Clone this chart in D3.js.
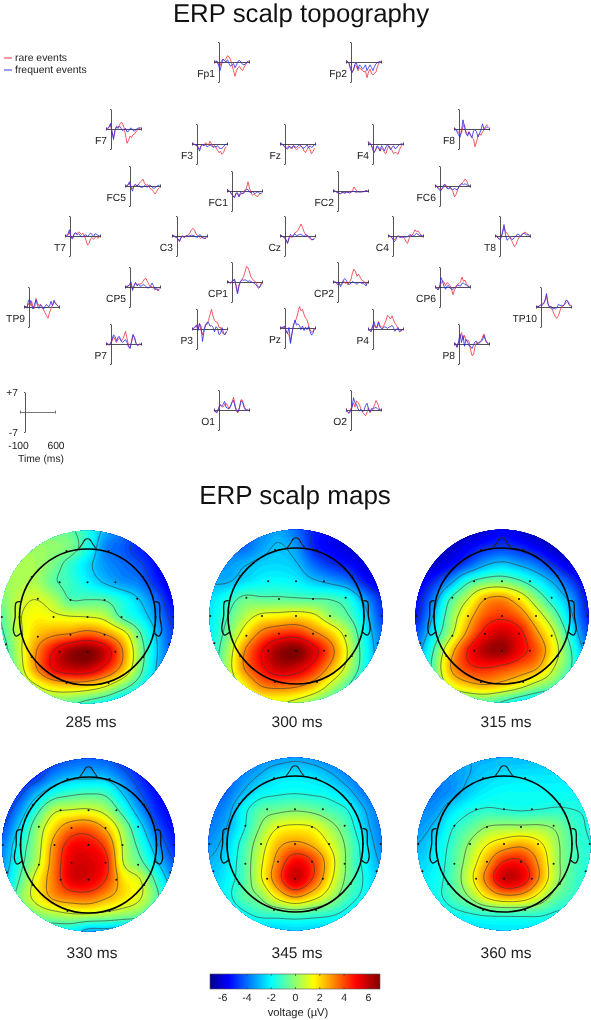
<!DOCTYPE html>
<html>
<head>
<meta charset="utf-8">
<style>
  body { margin: 0; background: #fff; }
  svg { filter: blur(0.3px); }
  text { font-family: "Liberation Sans", Arial, sans-serif; fill: #222; text-rendering: geometricPrecision; }
</style>
</head>
<body>
<svg id="chart" width="591" height="1020"></svg>
<script src="https://d3js.org/d3.v7.min.js"></script>
<script>

var channels = ["Fp1","Fp2","F7","F3","Fz","F4","F8","FC5","FC1","FC2","FC6","T7","C3","Cz","C4","T8",
  "CP5","CP1","CP2","CP6","TP9","TP10","P7","P3","Pz","P4","P8","O1","O2"];

var times = [-100,-70,-40,-10,20,50,80,110,140,170,200,230,260,290,320,350,380,410,440,470,500,530,560,590];

var rareEvents = [
  [0,.3,0,-1,-1.5,.5,1,.5,1.2,2.2,1.8,.8,-1,-3,-5,-3,-2,-1.5,-2.5,-3,-2,-1,-.3,.3],
  [.4,.2,-.5,-2,-3.5,-2.5,-1,-1.5,-3,-2,-2.5,-3,-3.5,-3.2,-5.5,-3.5,-2.5,-4,-4.5,-4,-3.5,-1.5,-.3,.2],
  [.2,0,.5,1.5,-1,-3,-.5,1,.5,1.5,2.3,2,.5,-2,-5,-4,-2.5,-3,-2,-1.8,-1,-.3,.2,.2],
  [0,.2,-.3,-.5,-1.5,-1.8,-.6,-.3,-.5,.4,0,-.3,1,0,-1,-.5,-1.2,-2.2,-3,-2.6,-3.6,-3,-1.5,-1],
  [0,.2,-.2,-1,-1.6,-1,-.6,-1.5,-1.2,-.5,-1.5,-2,-1.6,-1,-.6,-1.2,-2.5,-3,-2,-1,-2,-3.4,-2.6,-1.5],
  [.5,.2,0,-1.5,-3,-2,-1,-1.5,-2.5,-1.5,-2,-3,-3.4,-1.5,-.7,-1.5,-2.2,-3.4,-3,-3.1,-3.6,-2,-.8,-.3],
  [.2,0,-.5,-1,-2,-1.5,1,1.5,-1,-2,-1,-2.5,-3,-3.5,-6.2,-4.5,-2.5,-1.5,-2.2,-1,-.2,1,1.5,1],
  [0,.1,.3,1,-.5,-1,0,.3,.1,.7,1.2,1.8,2.4,1,.3,.5,-.3,-1,-1.2,-2,-2.8,-2,-1,-.5],
  [.4,.1,-.2,-1,-1.8,-2.2,-1,-1,-2,-1,-1,-.5,.4,1,3.2,1,-.6,-1.5,-1,-1.4,-2,-1.6,-.8,-1],
  [.3,.1,-.3,-.5,-.8,-1,-.6,-.5,-.8,-.4,-.4,-.6,-.2,.2,1.4,.6,-.1,-.4,-.2,-.3,-.3,-.2,.2,.1],
  [.1,0,-.5,-1,-1.5,-1,.3,.5,-.5,-1,-.6,-1.2,-2,-3.8,-3,-1.4,-.2,.6,1,1.5,2.4,2,.5,0],
  [.1,0,.2,1.5,-.5,-.8,.6,1,.8,1.4,1.2,.5,1,0,-1.5,-3.2,-2.6,-1,-.5,-1.2,-.5,-.2,-.8,-.2],
  [0,.2,-.3,-.6,-1,-2,-.6,-.2,-.5,-.1,.2,.4,1.2,2.2,2.7,2,.8,.1,-.3,-.8,-.3,-.5,-1,-.6],
  [.2,.1,-.3,-.6,-1.2,-2.5,-1,0,-.6,.3,1.2,1.4,2,3,4.2,3,1.5,.5,0,-.4,-.8,-1.4,-1.2,-.8],
  [.1,0,-.3,-1,-1.5,-.8,-.2,-.2,-.5,-.3,-.2,-.8,-2,-2.6,-1,.3,.3,1,2.2,1.5,1.8,1,.3,.2],
  [0,.1,-.4,-1,-.5,1,3,1.5,1,.2,-.5,-1.5,-2.6,-3.7,-3,-1.6,-.5,0,.4,1,1.4,1,.6,.2],
  [0,.2,.3,.7,1.2,-.7,.4,1.4,.8,1,1,1.2,2,2.8,3,1.8,.8,-.1,.2,-.4,-1,-.8,-1.4,-.9],
  [.2,.1,-.3,-.3,.4,.8,-1,-3.5,-1,.2,.8,1.8,3.5,5.4,5,3.5,1.8,1,.4,.1,-1,-1.8,-1.6,-.2],
  [.1,0,-.2,-.7,-.4,-1,-.5,.4,-.5,-.2,-1,0,1,3.2,4.5,3.6,2,2.8,1.8,.8,.4,.1,-.8,-.3],
  [0,-.2,-1,.3,1.2,2.2,1.8,.5,1.5,1.2,.5,-.6,-2.7,-1,-.3,1,1.2,1.8,3.5,2,2.4,1,.4,.1],
  [0,.2,0,1.2,.4,2.2,0,-.5,3,1.5,.4,1,0,-1,-2,-3,-3.9,-2,-.5,.6,1.8,1.4,.8,.2],
  [0,.2,.3,.5,1,1.4,2,4,1,0,-.5,-1,-2.4,-3.5,-3.9,-3,-1.3,.2,.5,.8,1.5,2,1.4,.4],
  [0,.2,-.5,.4,1,2.6,1.5,.5,1.6,2,1.2,1.5,2.8,4.4,2,-.5,-1.4,.5,2.8,2.4,.3,-.4,-.3,-.1],
  [0,.2,.5,1.5,-.2,2,-.5,-2,-.2,1.5,1.5,3,5,6.9,4.5,3,2.5,2.4,.5,.6,-1,-1.8,-2,-1],
  [0,.2,0,.6,-1,-1.8,-2.6,-5,-2,1,2,3.5,5.5,7.5,6,6.5,4.8,3.5,3,1,-.5,-1.5,-1.2,0],
  [0,-.5,-1,1,1.6,.4,1,2.6,1,.8,.5,1.8,3,4.8,4.2,3.5,4.6,3.2,2,1.2,.4,-.3,-.8,-.3],
  [0,.2,-1,.5,2,4,1.5,3,1,1.4,1,-2,-4,-3.8,-1,.5,.3,.8,1,2.4,3.5,1.6,.4,.2],
  [0,-.7,-1,.5,2,1.4,1,1.8,2.4,1.5,.5,1.2,2.6,4.4,2,-.5,-1,1,3.6,3.4,1.5,.3,-.1,0],
  [0,-.6,-1,.3,1.2,2.5,1,3.2,2.6,1.8,.2,-.8,-1.4,-2,-.8,.8,-1,0,.6,1.8,3.3,2.4,.8,.1]
];

var frequentEvents = [
  [.3,0,.4,-1,-3,-1,1,.5,0,.8,-.5,-1.5,-1,-.5,-2,-1,.3,.6,0,-.8,-1,-.6,0,.4],
  [.5,.2,-.4,-2.5,-3.8,-2.8,-.6,-.4,-2.4,-1,-1.6,-2.5,-2,-1,-3,-2,-1,-2,-3,-1.6,-.6,-.2,.1,.2],
  [.3,.2,.8,2,-1,-3.7,-.5,.8,.2,1,.3,-.5,-.3,.3,-1,-.8,.2,.3,-.5,-.8,-.2,.2,.4,.5],
  [.2,0,-.2,-.4,-1,-2.5,-.8,-.2,-.6,-.2,-1,-.7,-.3,-.6,-1.2,-1,-1,-.6,-1.3,-1.6,-1.5,-1,-.2,0],
  [.3,0,-.4,-.8,-1.4,-1.8,-.8,-1,-1.6,-.6,-1,-1.2,-.8,-.2,-.8,-1.3,-1.5,-.9,-.3,-1.3,-.6,-1.2,-.9,0],
  [1,.3,-.2,-1.6,-3,-2.2,-.6,-1,-2.4,-.6,-1.4,-2.4,-1,-.2,-1,-2,-1.2,-.6,-1.6,-1.4,-.7,-.2,0,.1],
  [.3,0,-1,-2,-3,-.5,3.2,.5,-1.5,-2.5,-1,-2,-3,-.7,-.2,-1,-2.8,-1.6,-.3,1.8,-.2,.3,.8,.4],
  [.1,0,.4,1.5,-.5,-1.8,.2,.6,0,.5,-.2,-.5,-.4,.2,-.2,-.4,.3,.2,-.5,-.8,-.7,-.2,.2,.3],
  [.5,.1,-.2,-1,-1.6,-2.4,-.7,-.6,-2,-.5,-.8,-.9,-.2,.6,.5,-.4,-.6,-.2,-.8,-.8,-.3,-.4,-1,-.6],
  [.4,.1,-.2,-.6,-.8,-.9,-.5,-.6,-.7,-.4,-.5,-.7,-.4,-.2,-.1,-.4,-.4,-.2,-.4,-.3,-.2,-.1,0,0],
  [.2,0,-.8,-1.5,-1.5,-.6,.5,.2,-.8,-1,-.3,-1,-1.4,-.7,-1.3,-1.2,-.2,.4,.8,.5,.8,.4,.2,.1],
  [.1,.2,.8,2.2,-.6,-1,.6,1.2,.4,.8,.3,-.3,-.2,.2,.4,-.2,.4,1,.6,-.2,.8,.6,.2,.1],
  [.1,.2,-.2,-.5,-1,-1.8,-.4,.1,-.5,-.1,.1,-.1,.1,.3,.2,0,-.3,-.5,.3,.4,-.5,-.8,-.8,-.4],
  [.3,.1,-.2,-.6,-1.4,-2.6,-.6,.6,-.4,.4,.8,.1,.3,.5,.6,.2,-.1,.4,.4,-.3,-.4,-1.2,-1.3,-1],
  [.2,.1,-.2,-.8,-2,-1.6,-.2,.1,-.4,-.5,-.4,-.3,-.4,-.2,.2,.5,-.1,.1,.4,.9,.5,.2,.2,.1],
  [.1,0,-.8,-1.2,-.8,1.5,4,.5,-1.5,-1,-.5,-1,-1.2,-.4,0,.7,.5,-.2,.6,.9,.8,.4,.4,.2],
  [.1,.2,.3,.9,1.8,-1.2,.3,1.6,.4,.8,.3,.3,.9,.6,.2,-.3,-.3,.3,1.4,.4,-.8,-.3,-1.1,-.6],
  [.2,.1,-.4,-.1,.6,1,-1.4,-4.2,-1.4,.3,.8,.6,.8,.5,.2,.4,.2,-.2,-.3,-.8,-1.4,-2.2,-1.8,-.5],
  [.1,.1,-.1,-.8,-.3,-1.6,-.7,.8,1.2,.4,-.6,-.9,-.4,.2,-.2,-.4,-.8,-.3,-.1,-.5,-.4,-.7,-1.4,-.2],
  [.1,-.3,-1,-.2,3.3,2,.3,-.8,.3,.5,-.4,-.7,-.8,-.3,.2,.7,.5,.3,1.3,1.4,.8,.7,.2,0],
  [.1,.2,-.4,2.4,2.4,.8,-.7,.8,2.5,.5,-.5,.8,.2,-.8,.2,.9,.2,.3,2,.5,2.4,1.2,.6,.1],
  [0,.2,.2,.8,.6,1,2.4,4.7,1.2,0,.3,-.8,-.5,-.7,-.2,1,.5,.6,.3,1,2.4,2.2,.8,.3],
  [0,.2,-.3,.2,1.5,3.2,2.7,1,2.4,2.6,1,.6,1,1.6,.6,-1,-1.6,1,3.4,2.2,.2,-.6,0,0],
  [0,.3,.8,1.2,-.5,1.8,1,-4.4,-.8,1.3,2.3,2.3,1,1.2,.6,-1,.8,.2,-2,-1.6,.5,-1.4,-2,-.8],
  [0,.2,.3,.6,-1,-2,.2,-5.4,-1.8,1,2.8,1,1.5,.8,-.6,.7,-.9,.3,-.6,.5,-1.2,-2.5,-1.8,-.3],
  [0,-.4,-.9,.8,2.6,.8,.3,2.4,.6,.2,.2,.8,.6,.2,.7,.8,1.3,.5,-.8,-.2,.5,-1,-.6,-.2],
  [0,.1,-1.2,.8,3.4,.5,3,-.8,1.6,.8,-.6,-.8,-1.6,-.4,.8,1,-.3,.6,.8,1.4,3,1.2,.4,.2],
  [0,-.6,-.8,.4,1.8,1.3,2,3,1,.6,.4,1.4,2.8,3.4,1.2,-.3,-.6,.8,3.2,2.8,1,0,0,0],
  [0,-.7,-1.2,-.5,.8,4.3,2.5,2,.4,-.3,.2,-.5,-.2,1.5,2.4,.3,-.6,.5,.3,.7,.9,.4,.2,.1]
];

var mapLabels = ["285 ms","300 ms","315 ms","330 ms","345 ms","360 ms"];
var voltTicks = [-6,-4,-2,0,2,4,6];
var scaleBarTimes = [-100,600];
var scaleBarVolts = [-7,7];

// scalp voltage sampled on an 11x11 square around each disc
var map285 = [
  [0,0,-.3,-.3,-.6,-1.5,-3,-3.8,-4.5,-5,-5.5],
  [.2,.2,.2,0,-.3,-1.6,-3.6,-4.2,-5,-5.5,-6],
  [.4,.4,.3,-.3,-1.3,-2.4,-3.4,-3.9,-4.4,-5.4,-6],
  [.1,.4,.4,-.6,-1.2,-2,-2.8,-3.4,-3.8,-5,-6],
  [-.2,.7,1.1,.5,-.8,-.8,-.9,-1.7,-2.7,-4,-5.6],
  [-.7,.9,1.6,1.4,1.2,1.1,.7,-1,-2,-3.4,-5],
  [-1,.7,2.2,2.9,3.2,3.7,3.1,1.8,-.6,-2.8,-4.6],
  [-1.5,.6,3,5,6.5,7,5.8,3.2,0,-2.6,-4.4],
  [-1.8,.3,2.9,5,5.8,5.8,4.6,2.6,-.3,-2.8,-4.5],
  [-2,-.3,.9,1.9,2.2,2,1.2,-.2,-1.6,-3,-4.5],
  [-2.2,-1.2,-.5,-.3,-.6,-1.2,-1.8,-2.6,-3.2,-4,-4.5]
];
var map300 = [
  [-4,-4,-4,-3.6,-3.2,-4,-5,-5.5,-6,-6.5,-6.5],
  [-4,-4,-4,-3.3,-2.8,-3.4,-5,-5.6,-6,-6.5,-6.5],
  [-3.4,-3.4,-3,-2.6,-2.5,-2.8,-4,-4.8,-5.3,-6,-6.4],
  [-3,-3,-2.4,-2,-1.9,-2.1,-2.7,-3.2,-3.8,-5.2,-6],
  [-2.4,-1.6,-.6,-.7,-.7,-.8,-.9,-1,-1.6,-3.4,-5],
  [-2.2,-1,.4,1.4,1.6,1.8,1.4,.1,-.8,-2.5,-4.6],
  [-2,-.5,1.6,3.4,4.2,4.4,3.4,2.2,.4,-2,-4],
  [-1.8,.1,3,5,6.5,7,5.6,3.6,1,-1.7,-3.7],
  [-1.7,.3,3.1,4.8,6,5.8,4.6,2.7,.6,-1.8,-3.8],
  [-1.8,-.2,1.6,3.2,3.6,3.4,2.5,.8,-.8,-2.6,-4],
  [-1.5,-.6,.4,1.1,1.2,.8,0,-1,-2,-3,-4]
];
var map315 = [
  [-6.5,-6.5,-6.5,-6.5,-6,-5.5,-6,-6.5,-6.5,-6.5,-6.5],
  [-6.5,-6.5,-6.3,-5.6,-5,-4.7,-5,-5.6,-6.3,-6.5,-6.5],
  [-6.3,-6.2,-5.5,-4.4,-3.2,-2.7,-3.2,-3.9,-5,-6,-6.3],
  [-5.8,-5,-3.4,-1.4,-.5,-.3,-.9,-2,-3.2,-4.6,-5.9],
  [-5.4,-3.8,-1.1,.7,2.6,3,1.8,-.1,-1.9,-3.4,-5.4],
  [-5.2,-3,-.3,2,3.8,4.3,3.6,1.6,-.4,-2.8,-5],
  [-4.4,-2.2,.3,3,5,5.8,5,3,.9,-1.9,-4.4],
  [-3.6,-1.2,2,4.6,6.2,6.6,5.2,3.8,1.5,-1.1,-3.6],
  [-3,-.8,2.6,4.2,4.6,4.2,3.6,2.8,.8,-1.1,-3],
  [-3,-1.2,1.2,2.2,2.6,2.2,1.4,.3,-.6,-2,-3],
  [-3,-2,-1.4,-.8,-.6,-1.2,-2,-2.6,-3,-3.4,-3.5]
];
var map330 = [
  [-5.5,-5.5,-5,-4.6,-4.2,-4,-4.2,-4.8,-5.5,-6,-6],
  [-5.5,-5.4,-4.8,-3.6,-3,-2.9,-3,-3.9,-5,-5.8,-6],
  [-5.4,-4.6,-3,-1.7,-1.2,-1,-1.2,-2.7,-4.3,-5.4,-5.8],
  [-5,-3.5,-1.3,.6,1,1.1,.4,-1.4,-3.4,-5,-5.6],
  [-4.4,-2.5,-.1,2,3.4,3.6,2.4,.1,-2.2,-4.3,-5.4],
  [-3.8,-1.7,.2,3,4.9,5,3.9,.7,-1.4,-3.4,-5],
  [-3.4,-1.4,.5,3.3,5.4,5.6,4.7,.9,-.6,-2.6,-4.3],
  [-3,-.9,1.4,3.4,5.4,5.5,4.3,1.9,.9,-1.4,-3.5],
  [-2.8,-.3,1.4,2.9,3.5,3.6,2.8,1.9,1,-.8,-3],
  [-2.5,-1,-.1,.4,.8,.8,.5,.1,-.4,-1.8,-3],
  [-3,-2,-1.8,-1.8,-2,-3,-3,-3.2,-3.2,-3.2,-3.2]
];
var map345 = [
  [-4.2,-4.2,-4,-3.6,-3.4,-3.2,-3.4,-3.8,-4,-4.2,-4.4],
  [-4.2,-4.2,-3.6,-3,-2.4,-2.3,-2.4,-2.9,-3.6,-4.2,-4.4],
  [-4.2,-4,-3,-2.1,-1.8,-1.7,-1.8,-2,-2.7,-3.8,-4.4],
  [-4,-3.5,-2,-.8,-.5,-.3,-.5,-1,-1.6,-3,-4],
  [-3.8,-3.1,-1.8,-.1,1.2,1.5,1.3,.3,-.9,-2.6,-3.8],
  [-3.4,-2.7,-1.2,.6,2.4,3,2.5,1.2,-.4,-2.1,-3.6],
  [-3,-2.4,-1,1,3.2,5,4.2,2,-.3,-1.9,-3.2],
  [-2.8,-2.1,-1,1.1,3.6,5.8,4.2,1.7,-.4,-1.7,-3],
  [-2.7,-2,-.8,0,1.8,3,2,.6,-.9,-1.9,-3],
  [-2.8,-2.5,-1.8,-1.2,-1,-.8,-1,-1.3,-1.9,-2.7,-3],
  [-3.5,-3.2,-2.8,-2.7,-2.6,-2.5,-2.6,-2.7,-2.8,-3.2,-3.5]
];
var map360 = [
  [-3.4,-3.4,-3.3,-3,-3,-2.9,-2.9,-2.8,-2.8,-2.8,-2.8],
  [-3.8,-3.7,-3.4,-3,-2.6,-2.4,-2.3,-2.3,-2.3,-2.2,-2.2],
  [-4,-3.8,-3.4,-2.6,-2.1,-1.9,-1.9,-1.9,-1.9,-1.9,-1.8],
  [-3.6,-3.4,-2.4,-1.7,-1.4,-1.5,-1.6,-1.5,-1.4,-1.5,-1.6],
  [-3.4,-2.8,-1.6,-.8,0,.2,.2,.2,-.2,-1.1,-1.6],
  [-3,-2.3,-1.2,.1,1.4,2.2,2.6,1.8,.3,-1,-1.5],
  [-2.6,-2.1,-1,.6,2.6,4.5,4.6,2.8,.4,-.9,-1.5],
  [-2.3,-1.9,-.9,1,3.4,5.8,5.4,3,.4,-1,-1.5],
  [-2.2,-1.8,-1,.1,1.8,2.8,2.6,1.2,-.5,-1.2,-1.6],
  [-2.4,-2.2,-1.8,-1.5,-1.2,-1.1,-1.1,-1.2,-1.6,-1.7,-1.8],
  [-2.8,-2.6,-2.6,-2.5,-2.4,-2.3,-2.3,-2.3,-2.3,-2.3,-2.3]
];
var mapGrids = [map285, map300, map315, map330, map345, map360];

// contour levels of each map
var levels285 = [-4.6,-2.7,-.8,1.1,3.1,5];
var levels300 = [-4.9,-2.9,-.9,1.1,3.1,5.1];
var levels315 = [-4.9,-3,-1.1,.8,2.7,4.6];
var levels330 = [-4.3,-2.6,-.9,.9,2.6,4.3];
var levels345 = [-3.05,-1.6,-.15,1.3,2.75,4.2];
var levels360 = [-3,-1.5,0,1.5,3,4.5];
var mapLevels = [levels285, levels300, levels315, levels330, levels345, levels360];

// LAYOUT

var axisPos = {
  Fp1:[219,62], Fp2:[351,62], F7:[111,129], F3:[197,144], Fz:[285,144], F4:[373,144], F8:[459,129],
  FC5:[130,186], FC1:[232,191], FC2:[338,191], FC6:[440,186],
  T7:[70,236], C3:[177,236], Cz:[285,236], C4:[393,236], T8:[500,236],
  CP5:[130,287], CP1:[232,282], CP2:[338,282], CP6:[440,287], TP9:[29,307], TP10:[541,307],
  P7:[111,344], P3:[197,329], Pz:[285,328], P4:[373,329], P8:[459,344], O1:[219,410], O2:[351,410]
};
var mapCenters = [[87.5,617],[296,616],[502,616],[88.5,845],[295,844],[504,844]];
var labelPos = [[91,727],[297,727],[506,727],[92,958],[297,958],[506,958]];
var R = 86.5, headR = 68;

// electrodes in head radii
var electrodes = [[-.31,-.97],[.31,-.97],[-.82,-.59],[.82,-.59],[-.41,-.51],[0,-.51],[.41,-.51],
  [-.73,-.27],[-.25,-.25],[.25,-.25],[.73,-.27],[-1,0],[-.5,0],[0,0],[.5,0],[1,0],[-1.26,0],[1.26,0],
  [-.73,.29],[-.25,.26],[.25,.26],[.73,.29],[-1.2,.4],[1.2,.4],
  [-.82,.59],[-.41,.51],[0,.51],[.41,.51],[.82,.59],[-.31,.97],[.31,.97]];
var leftEar = [[-.99,-.225],[-1.05,-.21],[-1.064,0],[-1.09,.2],[-1.05,.28],[-.98,.24]];
var nose = [[-.135,-.995],[-.08,-1.07],[-.035,-1.14],[0,-1.15],[.035,-1.14],[.08,-1.07],[.135,-.995]];

var svg = d3.select("#chart");

// jet colour map
var jet = d3.scaleLinear()
  .domain([-7,-5.46,-1.96,1.54,5.04,7])
  .range(["#00008f","#0000ff","#00ffff","#ffff00","#ff0000","#800000"])
  .clamp(true);

// TITLES

svg.append("text").attr("x",301).attr("y",21.5).attr("text-anchor","middle")
  .style("font-size","25.8px").style("fill","#111").text("ERP scalp topography");
svg.append("text").attr("x",295).attr("y",504).attr("text-anchor","middle")
  .style("font-size","26px").style("fill","#111").text("ERP scalp maps");

// LEGEND

var legend = [["rare events","#f01a2a",58],["frequent events","#2222ee",70]];
legend.forEach(function(d) {
  svg.append("line").attr("x1",4).attr("x2",12).attr("y1",d[2]).attr("y2",d[2])
    .attr("stroke",d[1]).attr("stroke-width",0.9);
  svg.append("text").attr("x",15).attr("y",d[2]+3.4).style("font-size","10.4px").text(d[0]);
});

// ERP PANELS

var x = d3.scaleLinear().domain([-100,600]).range([-5,30]);
var y = d3.scaleLinear().domain([-7,7]).range([20,-20]);
var wave = d3.line().x(function(d,i) { return x(times[i]); }).y(function(d) { return y(d); });

function drawAxes(g, barColor) {
  g.append("g").call(d3.axisLeft(y).tickValues(scaleBarVolts).tickSize(1).tickSizeOuter(0).tickFormat(""))
    .attr("transform","translate(" + x(0) + ",0)")
    .call(function(a) { a.selectAll("path,line").attr("stroke","#555").attr("stroke-width",1); });
  g.append("g").call(d3.axisBottom(x).tickValues(scaleBarTimes).tickSize(1.5).tickSizeOuter(0).tickFormat(""))
    .call(function(a) {
      a.selectAll("path,line").attr("stroke",barColor).attr("stroke-width",0.8);
      a.selectAll("line").attr("y1",-1.5);
    });
}

channels.forEach(function(name, i) {
  var p = axisPos[name];
  var g = svg.append("g").attr("transform","translate(" + p[0] + "," + p[1] + ")");
  drawAxes(g,"#223");
  g.append("path").attr("d",wave(rareEvents[i])).attr("fill","none").attr("stroke","#f0303c").attr("stroke-width",0.8);
  g.append("path").attr("d",wave(frequentEvents[i])).attr("fill","none").attr("stroke","#2828e8").attr("stroke-width",0.8);
  g.append("text").attr("x",-4).attr("y",15.3).attr("text-anchor","end").style("font-size","10.3px").text(name);
});

// scale bar, bottom left
var bar = svg.append("g").attr("transform","translate(25,412)");
drawAxes(bar,"#555");
[["+7",-7,-16.5],["-7",-7,23.5]].forEach(function(d) {
  bar.append("text").attr("x",d[1]).attr("y",d[2]).attr("text-anchor","end").style("font-size","10.3px").text(d[0]);
});
bar.append("text").attr("x",-6.5).attr("y",36.5).attr("text-anchor","middle").style("font-size","10.3px").text(scaleBarTimes[0]);
bar.append("text").attr("x",31).attr("y",36.5).attr("text-anchor","middle").style("font-size","10.3px").text(scaleBarTimes[1]);
bar.append("text").attr("x",16).attr("y",49.5).attr("text-anchor","middle").style("font-size","10.3px").text("Time (ms)");

// SCALP MAPS

// Catmull-Rom resampling so the coarse grid draws as a smooth field
function cubic(a,b,c,d,t) {
  return b + 0.5*t*(c-a + t*(2*a-5*b+4*c-d + t*(3*(b-c)+d-a)));
}
function upsample(grid, k) {
  var n = grid.length, m = (n-1)*k+1, out = new Array(m*m);
  function at(r,c) {
    return grid[Math.max(0,Math.min(n-1,r))][Math.max(0,Math.min(n-1,c))];
  }
  for (var j = 0; j < m; ++j) {
    var r = Math.min(Math.floor(j/k),n-2), tr = j/k-r;
    for (var i = 0; i < m; ++i) {
      var c = Math.min(Math.floor(i/k),n-2), tc = i/k-c, col = [];
      for (var q = -1; q < 3; ++q)
        col.push(cubic(at(r+q,c-1),at(r+q,c),at(r+q,c+1),at(r+q,c+2),tc));
      out[j*m+i] = cubic(col[0],col[1],col[2],col[3],tr);
    }
  }
  return {values:out, size:m};
}

var bandLevels = d3.range(-7.5,7.6,0.2);

mapGrids.forEach(function(grid, idx) {
  var c = mapCenters[idx];
  var g = svg.append("g").attr("transform","translate(" + c[0] + "," + c[1] + ")");
  var up = upsample(grid,12), m = up.size;
  var step = 2*R/(m-1);
  var path = d3.geoPath(d3.geoTransform({point:function(px,py) {
    this.stream.point(-R+(px-0.5)*step, -R+(py-0.5)*step);
  }}));

  svg.append("clipPath").attr("id","disc"+idx).append("circle").attr("r",R);
  var clipped = g.append("g").attr("clip-path","url(#disc"+idx+")");
  clipped.append("circle").attr("r",R).attr("fill",jet(-7));
  clipped.selectAll("path.band")
    .data(d3.contours().size([m,m]).thresholds(bandLevels)(up.values))
    .enter().append("path").attr("class","band")
    .attr("d",path)
    .attr("fill",function(d) { return jet(d.value+0.1); })
    .attr("stroke",function(d) { return jet(d.value+0.1); })
    .attr("stroke-width",0.3);
  clipped.selectAll("path.iso")
    .data(d3.contours().size([m,m]).thresholds(mapLevels[idx])(up.values))
    .enter().append("path").attr("class","iso")
    .attr("d",path)
    .attr("fill","none").attr("stroke","#3a3a3a").attr("stroke-width",0.65);

  // head outline
  g.append("circle").attr("r",headR).attr("fill","none").attr("stroke","#000").attr("stroke-width",1.6);
  var outline = d3.line().x(function(d) { return d[0]*headR; }).y(function(d) { return d[1]*headR; })
    .curve(d3.curveCatmullRom);
  g.append("path").attr("d",outline(nose)).attr("fill","none").attr("stroke","#222").attr("stroke-width",1.1);
  g.append("path").attr("d",outline(leftEar)).attr("fill","none").attr("stroke","#111").attr("stroke-width",1.3);
  g.append("path").attr("d",outline(leftEar.map(function(d) { return [-d[0],d[1]]; })))
    .attr("fill","none").attr("stroke","#111").attr("stroke-width",1.3);
  g.selectAll("circle.el").data(electrodes).enter().append("circle").attr("class","el")
    .attr("cx",function(d) { return d[0]*headR; })
    .attr("cy",function(d) { return d[1]*headR; })
    .attr("r",1).attr("fill","#111");

  svg.append("text").attr("x",labelPos[idx][0]).attr("y",labelPos[idx][1]).attr("text-anchor","middle")
    .style("font-size","15.5px").text(mapLabels[idx]);
});

// COLOUR BAR

var volt = d3.scaleLinear().domain([-7,7]).range([210,380]);
var defs = svg.append("defs");
var grad = defs.append("linearGradient").attr("id","jetbar");
jet.domain().forEach(function(v) {
  grad.append("stop").attr("offset",(v+7)/14).attr("stop-color",jet(v));
});
svg.append("rect").attr("x",210).attr("y",974).attr("width",170).attr("height",15)
  .attr("fill","url(#jetbar)").attr("stroke","#555").attr("stroke-width",0.6);
svg.append("g").attr("transform","translate(0,989)")
  .call(d3.axisBottom(volt).tickValues(voltTicks).tickSize(-2).tickPadding(5).tickSizeOuter(0).tickFormat(String))
  .call(function(a) {
    a.select(".domain").remove();
    a.selectAll("line").attr("stroke","#333").attr("stroke-width",0.6);
    a.selectAll("text").style("font-size","10.5px").style("font-family",'"Liberation Sans"').attr("fill","#222");
  });
svg.append("g").attr("transform","translate(0,974)")
  .call(d3.axisTop(volt).tickValues(voltTicks).tickSize(-2).tickSizeOuter(0).tickFormat(""))
  .call(function(a) {
    a.select(".domain").remove();
    a.selectAll("line").attr("stroke","#333").attr("stroke-width",0.6);
  });
svg.append("text").attr("x",298).attr("y",1016).attr("text-anchor","middle")
  .style("font-size","11.2px").text("voltage (\u00b5V)");
</script>
</body>
</html>
